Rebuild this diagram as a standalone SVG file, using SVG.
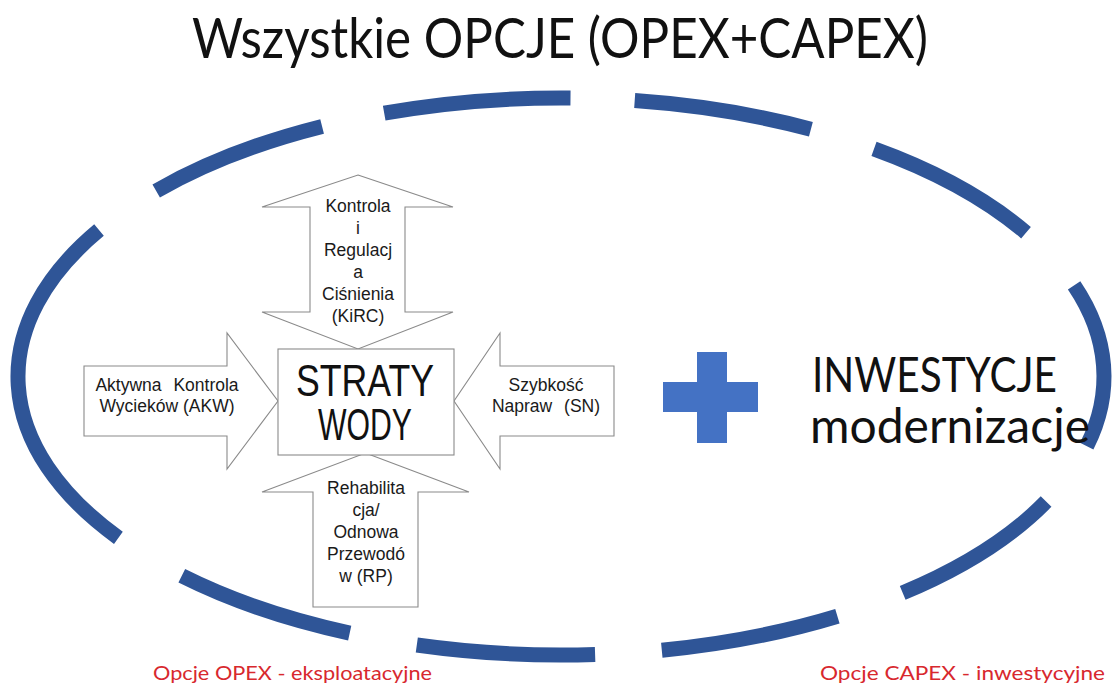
<svg xmlns="http://www.w3.org/2000/svg" width="1115" height="685" viewBox="0 0 1115 685">
<style>
.dash{fill:none;stroke:#2F5597;stroke-width:15;stroke-linecap:butt}
.shape{fill:#ffffff;stroke:#8a8a8a;stroke-width:1.1}
.sm{font-family:"Liberation Sans",Arial,sans-serif;font-size:17.5px;fill:#1a1a1a;text-anchor:middle}
.big{font-family:"Liberation Sans",Arial,sans-serif;font-size:44px;fill:#111;text-anchor:middle}
.cal{font-family:Lato,"Open Sans",sans-serif;fill:#111}
.red{font-family:Lato,"Open Sans",sans-serif;font-size:19px;fill:#D8282E}
</style>
<rect width="1115" height="685" fill="#ffffff"/>
<g id="title">
<text class="cal" x="192" y="58" font-size="57" textLength="736" lengthAdjust="spacingAndGlyphs">Wszystkie OPCJE (OPEX+CAPEX)</text>
</g>
<g id="ellipse">
<path class="dash" d="M384.2,113.2 A543,278.5 0 0 1 570.5,98.0"/>
<path class="dash" d="M634.7,100.6 A543,278.5 0 0 1 810.9,129.2"/>
<path class="dash" d="M874.0,148.9 A543,278.5 0 0 1 1026.0,232.7"/>
<path class="dash" d="M1074.1,285.4 A543,278.5 0 0 1 1086.7,446.2"/>
<path class="dash" d="M1046.1,501.6 A543,278.5 0 0 1 902.7,592.9"/>
<path class="dash" d="M837.4,616.2 A543,278.5 0 0 1 661.8,650.2"/>
<path class="dash" d="M595.1,654.4 A543,278.5 0 0 1 416.8,645.0"/>
<path class="dash" d="M349.7,633.1 A543,278.5 0 0 1 181.8,575.8"/>
<path class="dash" d="M118.4,537.8 A543,278.5 0 0 1 99.0,230.1"/>
<path class="dash" d="M156.2,190.9 A543,278.5 0 0 1 322.1,126.4"/>
</g>
<g id="kirc">
<polygon class="shape" points="358,175 453,207 405,207 405,312 453,312 358,349 262,312 310,312 310,207 262,207"/>
<text class="sm" x="358" y="212">Kontrola</text>
<text class="sm" x="358" y="234">i</text>
<text class="sm" x="358" y="256">Regulacj</text>
<text class="sm" x="358" y="278">a</text>
<text class="sm" x="358" y="300">Ciśnienia</text>
<text class="sm" x="358" y="322">(KiRC)</text>
</g>
<g id="akw">
<polygon class="shape" points="84,366 227,366 227,333 278,401 227,469 227,436 84,436"/>
<text class="sm" x="167" y="391" word-spacing="7">Aktywna Kontrola</text>
<text class="sm" x="167" y="412">Wycieków (AKW)</text>
</g>
<g id="sn">
<polygon class="shape" points="614,366 500,366 500,333 454,401 500,469 500,436 614,436"/>
<text class="sm" x="546" y="391">Szybkość</text>
<text class="sm" x="546" y="412" word-spacing="7">Napraw (SN)</text>
</g>
<g id="rp">
<polygon class="shape" points="365.5,453 469,492 418,492 418,607 313,607 313,492 262,492"/>
<text class="sm" x="366" y="494">Rehabilita</text>
<text class="sm" x="366" y="516">cja/</text>
<text class="sm" x="366" y="538">Odnowa</text>
<text class="sm" x="366" y="560">Przewodó</text>
<text class="sm" x="366" y="582">w (RP)</text>
</g>
<g id="straty">
<rect class="shape" x="278" y="349" width="176" height="106"/>
<text class="big" x="365" y="396" textLength="138" lengthAdjust="spacingAndGlyphs">STRATY</text>
<text class="big" x="365" y="440" textLength="94" lengthAdjust="spacingAndGlyphs">WODY</text>
</g>
<g id="plus">
<polygon fill="#4472C4" points="697,352 727,352 727,382 758,382 758,412 727,412 727,443 697,443 697,412 663,412 663,382 697,382"/>
</g>
<g id="inwestycje">
<text class="cal" x="812" y="392" font-size="48" textLength="245" lengthAdjust="spacingAndGlyphs">INWESTYCJE</text>
<text class="cal" x="810" y="443" font-size="48" textLength="280" lengthAdjust="spacingAndGlyphs">modernizacje</text>
</g>
<g id="labels">
<text class="red" x="153" y="680" textLength="279" lengthAdjust="spacingAndGlyphs">Opcje OPEX - eksploatacyjne</text>
<text class="red" x="820" y="680" textLength="285" lengthAdjust="spacingAndGlyphs">Opcje CAPEX - inwestycyjne</text>
</g>
</svg>
